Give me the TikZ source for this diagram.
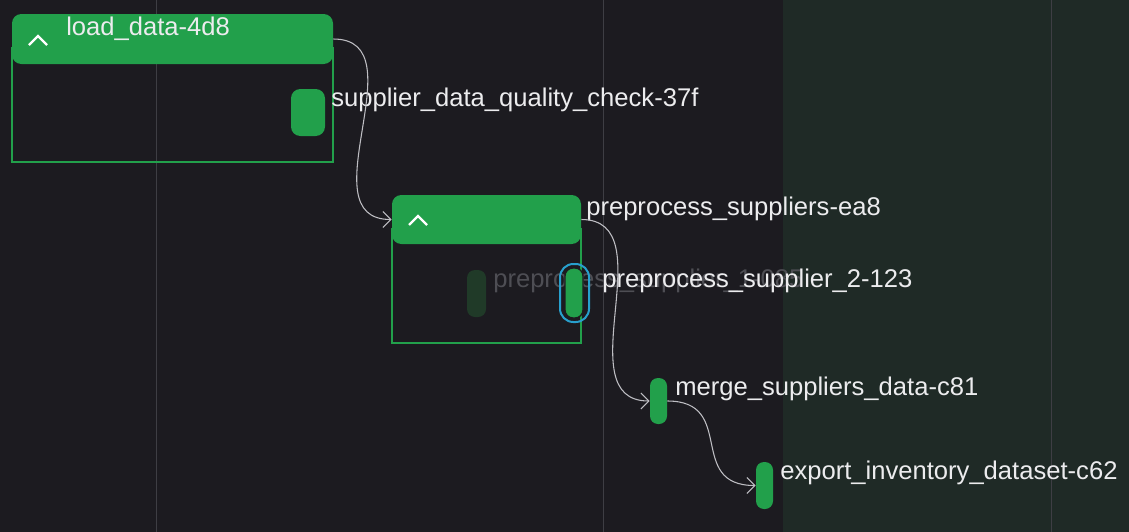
\documentclass[tikz,border=0pt]{standalone}
\usepackage{fontspec}
\setmainfont{Liberation Sans}
\usetikzlibrary{arrows.meta}
\definecolor{bgdark}{RGB}{28,27,32}
\definecolor{bgpanel}{RGB}{31,42,38}
\definecolor{gridc}{RGB}{62,62,68}
\definecolor{grn}{RGB}{34,160,75}
\definecolor{grnfade}{RGB}{32,58,40}
\definecolor{txt}{RGB}{236,236,238}
\definecolor{txtfade}{RGB}{78,78,84}
\definecolor{edgec}{RGB}{190,190,195}
\definecolor{selc}{RGB}{40,160,205}
\tikzset{
  grpbox/.style={inner sep=0pt},
  grpline/.style={draw=grn, line width=1.6pt},
  hdr/.style={fill=grn, rounded corners=7pt, inner sep=0pt},
  pill/.style={fill=grn, rounded corners=6pt, inner sep=0pt},
  lbl/.style={anchor=base west, inner sep=0pt, text=txt, font=\fontsize{19.2}{22}\selectfont},
  edge/.style={draw=edgec, line width=0.8pt, -{Straight Barb[length=6pt,width=12pt]}},
  chev/.style={draw=white, line width=1.8pt},
}
\begin{document}
\begin{tikzpicture}[x=0.75pt,y=-0.75pt]
\useasboundingbox (0,0) rectangle (1129,532);
\fill[bgdark] (0,0) rectangle (1129,532);
\fill[bgpanel] (783,0) rectangle (1129,532);
\foreach \gx in {156,603,1051} \draw[gridc, line width=0.75pt] (\gx,0) -- (\gx,532);

% group 1
\node[grpbox, minimum width=240.75pt, minimum height=111pt] (g1) at (172.5,88) {};
\draw[grpline] ([yshift=-25pt]g1.north west) -- (g1.south west) -- (g1.south east) -- ([yshift=-25pt]g1.north east);
\node[hdr, minimum width=240.75pt, minimum height=37.5pt] (h1) at (172.5,39) {};
\draw[chev] (29,45) -- (38,36) -- (47,45);
\node[lbl] (l1) at (66,35) {load\_data-4d8};
\node[pill, rounded corners=7pt, minimum width=25.5pt, minimum height=35.25pt] (q) at (308,112.5) {};
\node[lbl] (lq) at (331,106) {supplier\_data\_quality\_check-37f};

% group 2
\node[grpbox, minimum width=141.75pt, minimum height=111pt] (g2) at (486.5,269) {};
\draw[grpline] ([yshift=-25pt]g2.north west) -- (g2.south west) -- (g2.south east) -- ([yshift=-25pt]g2.north east);
\node[hdr, minimum width=141.75pt, minimum height=36.75pt] (h2) at (486.5,219.5) {};
\draw[chev] (409,225) -- (418,216) -- (427,225);
\node[lbl] (l2) at (586,215) {preprocess\_suppliers-ea8};

\node[pill, fill=grnfade, minimum width=14.25pt, minimum height=35.25pt] (p1) at (476.5,293.5) {};
\node[lbl, text=txtfade] (lp1) at (493,287) {preprocess\_supplier\_1-085};
\node[draw=selc, line width=1.5pt, rounded corners=10pt, minimum width=21.75pt, minimum height=43.5pt, inner sep=0pt] (sel) at (574.5,293) {};
\node[pill, draw=bgdark, line width=1pt, minimum width=13.5pt, minimum height=37.5pt] (p2) at (574,293) {};
\node[lbl] (lp2) at (602,287) {preprocess\_supplier\_2-123};

% merge / export
\node[pill, minimum width=12.75pt, minimum height=34.5pt] (m) at (658.5,401) {};
\node[lbl] (lm) at (675,395) {merge\_suppliers\_data-c81};
\node[pill, minimum width=12.75pt, minimum height=35.25pt] (e) at (764.5,485.5) {};
\node[lbl] (le) at (780,479) {export\_inventory\_dataset-c62};

% edges
\draw[edge] (h1.east) .. controls +(87,0) and +(-87,0) .. (h2.west);
\draw[edge] (h2.east) .. controls +(85,0) and +(-85,0) .. (m.west);
\draw[edge] (m.east) .. controls +(70,0) and +(-70,0) .. (e.west);
\end{tikzpicture}
\end{document}
